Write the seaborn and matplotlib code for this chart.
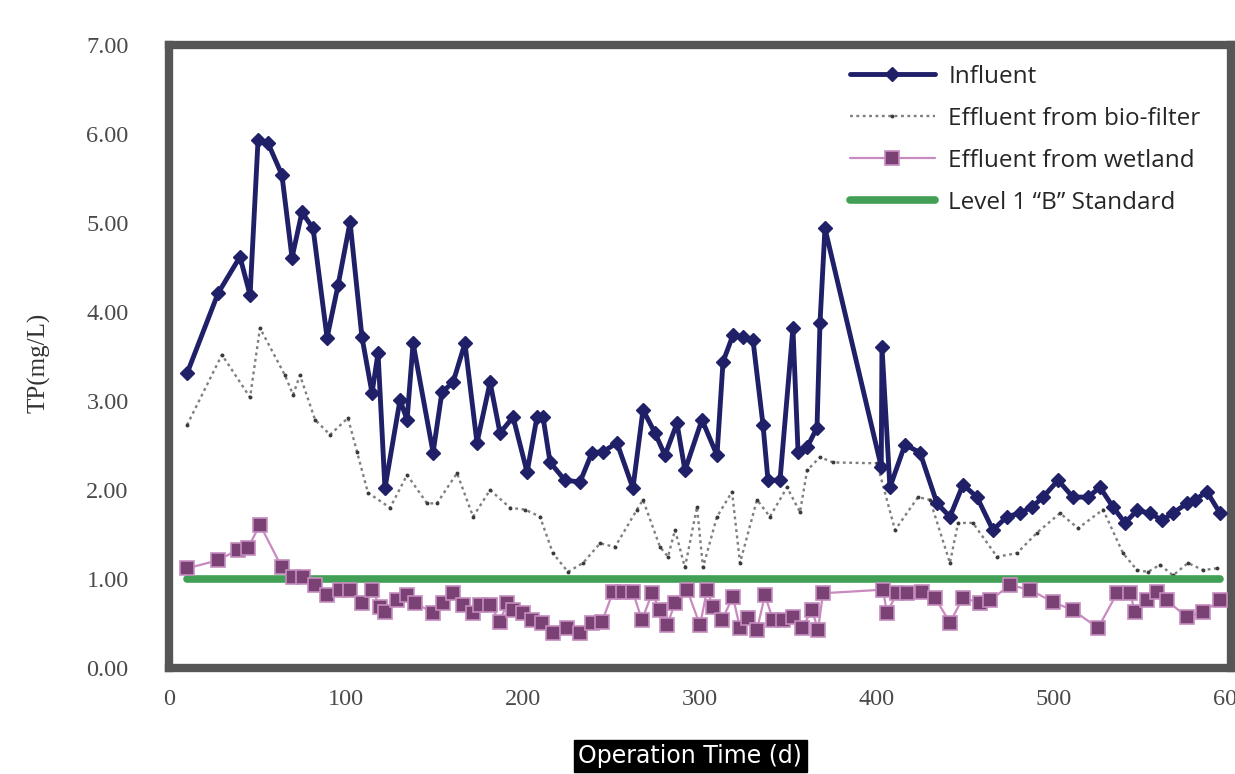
import matplotlib

matplotlib.use("Agg")
import matplotlib.pyplot as plt
import matplotlib.ticker as mticker
import pandas as pd
import seaborn as sns

# Influent TP (mg/L) vs operation day
influent_day = [10.2, 27.7, 40.1, 45.8, 50.3, 55.9, 63.8, 69.5, 75.1, 81.4,
                89.3, 95.5, 102.3, 109.0, 114.7, 118.1, 122.0, 130.5, 134.5, 137.9,
                149.2, 154.2, 160.5, 167.2, 174.0, 181.4, 187.0, 194.4, 202.3, 207.9,
                211.3, 215.3, 223.7, 232.2, 239.0, 245.2, 253.1, 262.1, 267.8, 274.6,
                280.2, 287.0, 291.5, 301.1, 309.6, 313.0, 318.6, 324.3, 329.9, 335.6,
                338.4, 345.2, 352.5, 355.4, 360.5, 366.1, 367.8, 370.6, 402.4, 402.8,
                407.3, 415.8, 424.3, 433.9, 441.2, 448.6, 456.5, 465.5, 473.4, 480.8,
                487.6, 493.8, 502.3, 510.7, 519.2, 526.0, 533.3, 540.1, 546.9, 554.2,
                561.0, 567.2, 575.1, 579.7, 586.4, 593.8]
influent_tp = [3.31, 4.21, 4.62, 4.19, 5.93, 5.90, 5.54, 4.61, 5.12, 4.94,
               3.71, 4.30, 5.01, 3.72, 3.09, 3.54, 2.02, 3.01, 2.79, 3.65,
               2.42, 3.10, 3.21, 3.65, 2.53, 3.21, 2.64, 2.82, 2.20, 2.82,
               2.82, 2.31, 2.11, 2.09, 2.42, 2.43, 2.53, 2.02, 2.90, 2.64,
               2.39, 2.75, 2.22, 2.79, 2.39, 3.44, 3.74, 3.72, 3.69, 2.73,
               2.11, 2.11, 3.82, 2.43, 2.48, 2.70, 3.88, 4.94, 2.26, 3.61,
               2.03, 2.51, 2.42, 1.85, 1.70, 2.06, 1.92, 1.55, 1.70, 1.74,
               1.81, 1.92, 2.11, 1.92, 1.92, 2.03, 1.81, 1.63, 1.77, 1.74,
               1.66, 1.74, 1.85, 1.89, 1.98, 1.74]

# Effluent from bio-filter
biofilter_day = [10.2, 29.9, 45.8, 51.4, 65.5, 70.1, 74.0, 82.5, 91.0, 101.1,
                 106.2, 112.4, 124.9, 134.5, 145.8, 151.4, 162.7, 171.8, 181.4, 192.7,
                 201.1, 209.6, 216.9, 225.4, 233.9, 243.5, 252.0, 264.4, 267.8, 277.4,
                 281.9, 285.9, 291.5, 298.3, 301.7, 309.6, 318.1, 322.6, 332.2, 339.5,
                 349.2, 356.5, 360.5, 367.8, 375.1, 400.0, 410.2, 423.2, 429.9, 441.2,
                 445.8, 454.2, 467.8, 479.1, 490.4, 503.4, 513.6, 527.7, 539.0, 546.9,
                 553.1, 559.9, 567.2, 575.7, 584.2, 592.1]
biofilter_tp = [2.73, 3.52, 3.04, 3.82, 3.29, 3.07, 3.29, 2.79, 2.62, 2.81,
                2.43, 1.97, 1.80, 2.17, 1.85, 1.85, 2.19, 1.70, 2.00, 1.80,
                1.78, 1.70, 1.29, 1.08, 1.18, 1.40, 1.36, 1.78, 1.89, 1.36,
                1.25, 1.55, 1.13, 1.81, 1.13, 1.70, 1.98, 1.18, 1.89, 1.70,
                2.03, 1.75, 2.22, 2.37, 2.31, 2.30, 1.55, 1.92, 1.89, 1.18,
                1.63, 1.63, 1.25, 1.29, 1.52, 1.74, 1.57, 1.78, 1.29, 1.10,
                1.08, 1.16, 1.04, 1.18, 1.10, 1.12]

# Effluent from wetland
wetland_day = [10.2, 27.7, 39.0, 44.6, 51.4, 63.8, 70.1, 75.7, 82.5, 89.3,
               96.6, 102.3, 109.0, 114.7, 119.2, 122.0, 128.8, 134.5, 139.0, 149.2,
               154.8, 160.5, 166.1, 171.8, 175.7, 181.4, 187.0, 191.0, 194.4, 200.0,
               205.1, 210.7, 216.9, 224.9, 232.2, 239.0, 244.6, 250.8, 256.5, 262.1,
               267.2, 272.9, 277.4, 281.4, 285.9, 292.7, 300.0, 304.0, 307.3, 312.4,
               318.6, 322.6, 327.1, 332.2, 336.7, 341.2, 346.9, 352.5, 357.6, 363.3,
               366.7, 369.5, 403.4, 405.6, 411.3, 416.9, 425.4, 432.8, 441.2, 448.6,
               458.2, 463.8, 475.1, 486.4, 499.4, 510.7, 524.9, 535.6, 542.9, 545.8,
               552.5, 558.2, 563.8, 575.1, 584.2, 593.8]
wetland_tp = [1.12, 1.21, 1.33, 1.35, 1.61, 1.13, 1.02, 1.02, 0.93, 0.82,
              0.88, 0.88, 0.73, 0.88, 0.69, 0.63, 0.76, 0.82, 0.73, 0.62,
              0.73, 0.84, 0.71, 0.62, 0.71, 0.71, 0.52, 0.73, 0.65, 0.62,
              0.54, 0.51, 0.39, 0.45, 0.39, 0.51, 0.52, 0.85, 0.85, 0.85,
              0.54, 0.84, 0.65, 0.48, 0.73, 0.88, 0.48, 0.88, 0.69, 0.54,
              0.80, 0.45, 0.56, 0.43, 0.82, 0.54, 0.54, 0.57, 0.45, 0.65,
              0.43, 0.84, 0.88, 0.62, 0.84, 0.84, 0.85, 0.79, 0.51, 0.79,
              0.73, 0.76, 0.93, 0.88, 0.74, 0.65, 0.45, 0.84, 0.84, 0.63,
              0.76, 0.85, 0.76, 0.57, 0.63, 0.76]

# Level 1 "B" discharge standard
standard_day = [10.2, 593.8]
standard_tp = [1.0, 1.0]

x_ticks = [0, 100, 200, 300, 400, 500, 600]
y_ticks = [0, 1, 2, 3, 4, 5, 6, 7]

sns.set_theme(style="white")
plt.rcParams["font.family"] = ["Liberation Serif", "DejaVu Serif"]

fig = plt.figure(figsize=(12.35, 7.74), dpi=100)
ax = fig.add_axes([169 / 1235, 1 - 668 / 774, (1231 - 169) / 1235, (668 - 45) / 774])

df_std = pd.DataFrame({"day": standard_day, "tp": standard_tp})
df_in = pd.DataFrame({"day": influent_day, "tp": influent_tp})
df_bio = pd.DataFrame({"day": biofilter_day, "tp": biofilter_tp})
df_wet = pd.DataFrame({"day": wetland_day, "tp": wetland_tp})

sns.lineplot(data=df_bio, x="day", y="tp", sort=False, estimator=None, ax=ax,
             color="#7f7f7f", linewidth=1.7, linestyle=(0, (1.2, 1.5)),
             marker="o", markersize=2.8, markeredgewidth=0,
             markerfacecolor="#3a3a3a", label="Effluent from bio-filter", zorder=2)
sns.lineplot(data=df_std, x="day", y="tp", sort=False, estimator=None, ax=ax,
             color="#41a055", linewidth=5.5, label='Level 1 \u201cB\u201d Standard', zorder=3)
sns.lineplot(data=df_wet, x="day", y="tp", sort=False, estimator=None, ax=ax,
             color="#c98ac0", linewidth=1.6, marker="s", markersize=10.5,
             markerfacecolor="#7a4274", markeredgecolor="#c58cbe", markeredgewidth=1.2,
             label="Effluent from wetland", zorder=4)
sns.lineplot(data=df_in, x="day", y="tp", sort=False, estimator=None, ax=ax,
             color="#1f2068", linewidth=3.5, marker="D", markersize=7,
             markeredgewidth=1, markeredgecolor="#1f2068",
             label="Influent", zorder=5)

ax.set_xlim(0, 600)
ax.set_ylim(0, 7)
ax.set_xticks(x_ticks)
ax.set_yticks(y_ticks)
ax.yaxis.set_major_formatter(mticker.FormatStrFormatter("%.2f"))
ax.tick_params(axis="both", length=0, labelsize=17.5, labelcolor="#4a4a4a")
ax.tick_params(axis="y", pad=29)
ax.tick_params(axis="x", pad=15)
for s in ax.spines.values():
    s.set_color("#565656")
    s.set_linewidth(6)
ax.set_xlabel("")
ax.set_ylabel("TP(mg/L)", fontsize=18, color="#333333")
ax.yaxis.set_label_coords(-0.112, 0.49)

handles, labels = ax.get_legend_handles_labels()
order = ["Influent", "Effluent from bio-filter", "Effluent from wetland",
         'Level 1 \u201cB\u201d Standard']
hmap = dict(zip(labels, handles))
ax.legend([hmap[k] for k in order], order, loc="upper left", frameon=False,
          bbox_to_anchor=(0.641, 0.968), borderaxespad=0, borderpad=0,
          handlelength=3.5, handletextpad=0.55, labelspacing=0.74,
          prop={"family": ["Open Sans", "DejaVu Sans"], "size": 17.5})

fig.text(0.559, 0.008, "Operation Time (d)", ha="center", va="bottom",
         fontsize=17, color="white", family=["DejaVu Sans"],
         bbox=dict(facecolor="black", edgecolor="black", pad=3))

fig.savefig("out.png", dpi=100, facecolor="white")
plt.close(fig)
